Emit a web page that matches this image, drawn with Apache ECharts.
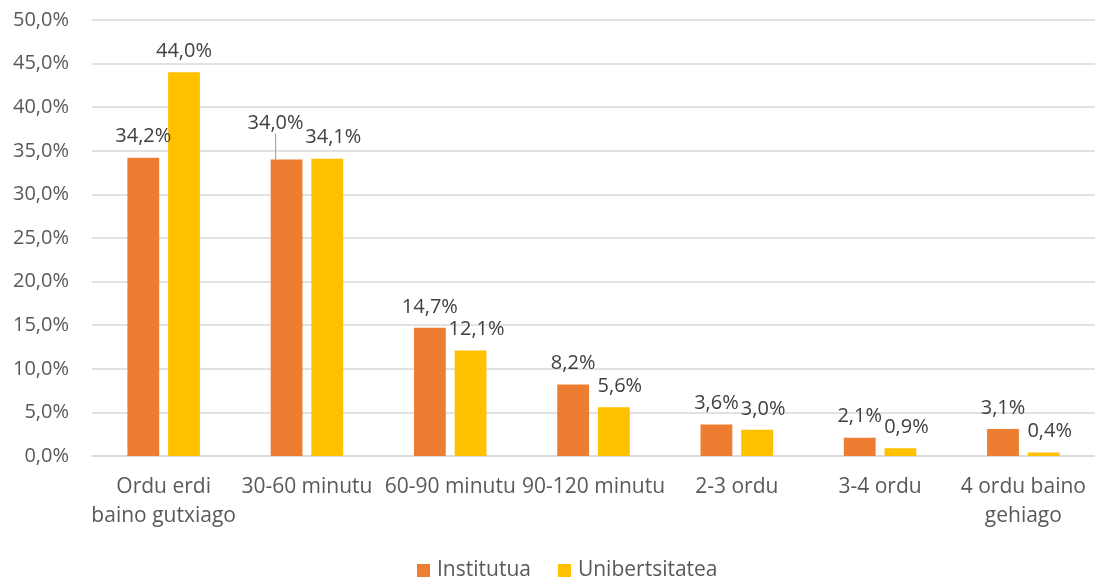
<!DOCTYPE html>
<html>
<head>
<meta charset="utf-8">
<script src="https://cdn.jsdelivr.net/npm/echarts@6/dist/echarts.min.js"></script>
<style>
	html, body { margin: 0; padding: 0; background: #fff; }
	#chart { width: 1095px; height: 578px; }
</style>
</head>
<body>
<div id="chart"></div>
<script>
	var categories = [ 'Ordu erdi\nbaino gutxiago', '30-60 minutu', '60-90 minutu', '90-120 minutu', '2-3 ordu', '3-4 ordu', '4 ordu baino\ngehiago' ];
	var seriesNames = [ 'Institutua', 'Unibertsitatea' ];
	var institutua = [ 34.2, 34.0, 14.7, 8.2, 3.6, 2.1, 3.1 ];
	var unibertsitatea = [ 44.0, 34.1, 12.1, 5.6, 3.0, 0.9, 0.4 ];

	var font = '"Open Sans", "Noto Sans", sans-serif';

	function pct(v) {
		return v.toFixed(1).replace('.', ',') + '%';
	}

	var chartDom = document.getElementById('chart');
	var myChart = echarts.init(chartDom);

	var labelStyle = {
		show: true,
		position: 'top',
		distance: 11,
		fontFamily: font,
		fontSize: 20,
		color: '#404040',
		formatter: function (p) {
			return pct(p.value);
		}
	};

	// only the moved label (34,0%) gets a leader line
	var institutuaData = institutua.map(function (v, i) {
		if (i === 1) {
			return { value: v, labelLine: { show: true, lineStyle: { color: '#A6A6A6', width: 1.2 } } };
		}
		return v;
	});

	var option = {
		animation: false,
		grid: {
			left: 92,
			top: 20,
			width: 1008,
			bottom: 122,
			containLabel: false
		},
		legend: {
			data: seriesNames,
			top: 555,
			left: 412,
			icon: 'rect',
			itemWidth: 13,
			itemHeight: 13,
			itemGap: 27,
			textStyle: { fontFamily: font, fontSize: 21, color: '#595959', padding: [ 0, 0, 0, 2 ] }
		},
		xAxis: {
			type: 'category',
			data: categories,
			axisTick: { show: false },
			axisLine: { lineStyle: { color: '#D9D9D9', width: 1.5 } },
			axisLabel: {
				interval: 0,
				margin: 17,
				fontFamily: font,
				fontSize: 21,
				lineHeight: 29,
				color: '#595959'
			}
		},
		yAxis: {
			type: 'value',
			min: 0,
			max: 50,
			interval: 5,
			axisLine: { show: false },
			axisTick: { show: false },
			splitLine: { lineStyle: { color: '#D9D9D9', width: 1.5 } },
			axisLabel: {
				margin: 23,
				fontFamily: font,
				fontSize: 20,
				color: '#595959',
				formatter: function (v) {
					return pct(v);
				}
			}
		},
		labelLayout: function (p) {
			// Excel moved a few labels aside
			if (p.seriesIndex === 0 && p.dataIndex === 1) {
				return { dx: -11, dy: -15 };
			}
			if (p.seriesIndex === 1 && p.dataIndex > 0) {
				return { dx: 6 };
			}
			return {};
		},
		series: [
			{
				name: seriesNames[0],
				type: 'bar',
				data: institutuaData,
				barWidth: '22.2%',
				barGap: '28%',
				itemStyle: { color: '#ED7D31' },
				label: labelStyle
			},
			{
				name: seriesNames[1],
				type: 'bar',
				data: unibertsitatea,
				barWidth: '22.2%',
				barGap: '28%',
				itemStyle: { color: '#FFC000' },
				label: labelStyle
			}
		]
	};

	option && myChart.setOption(option);
</script>
</body>
</html>
